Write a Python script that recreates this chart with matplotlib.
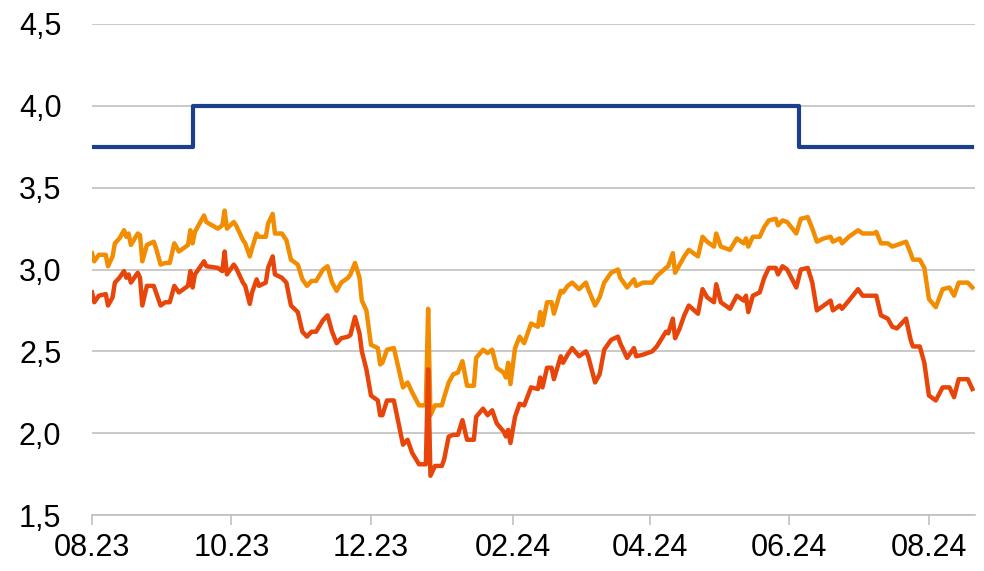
import matplotlib.pyplot as plt
import matplotlib.dates as mdates
from matplotlib.ticker import FuncFormatter
import pandas as pd

plt.rcParams['font.family'] = ['Liberation Sans', 'DejaVu Sans']

start = pd.Timestamp('2023-08-01')

# days after 01.08.2023
days = [0, 1, 3, 6, 7, 9, 10, 12, 14, 15, 16, 17, 20, 21, 22, 24, 27, 28, 30, 32,
        34, 36, 38, 42, 43, 44, 45, 49, 50, 55, 57, 58, 59, 62, 63, 66, 67, 69, 70, 72,
        73, 76, 77, 79, 80, 83, 85, 87, 90, 92, 94, 96, 98, 101, 103, 105, 107, 109, 112, 113,
        115, 117, 118, 120, 122, 125, 126, 127, 129, 132, 136, 138, 140, 143, 146, 147, 148, 150, 153, 154,
        156, 158, 160, 162, 164, 167, 168, 171, 173, 175, 177, 180, 181, 182, 183, 185, 187, 189, 192, 195,
        196, 197, 199, 201, 202, 205, 206, 208, 210, 213, 216, 217, 220, 222, 224, 227, 230, 231, 234, 237,
        238, 241, 245, 247, 251, 252, 254, 255, 257, 259, 261, 265, 267, 269, 272, 273, 275, 279, 282, 285,
        286, 287, 289, 292, 294, 296, 299, 300, 302, 304, 308, 310, 313, 315, 317, 320, 323, 324, 327, 328,
        331, 335, 337, 342, 343, 345, 348, 350, 352, 356, 358, 359, 362, 364, 366, 369, 372, 375, 377, 379,
        383, 385]

orange = [3.10, 3.05, 3.09, 3.09, 3.02, 3.08, 3.16, 3.19, 3.24, 3.20, 3.22, 3.15, 3.22, 3.21, 3.05, 3.15, 3.17, 3.13, 3.03, 3.04,
          3.04, 3.16, 3.11, 3.15, 3.24, 3.16, 3.23, 3.33, 3.29, 3.25, 3.27, 3.36, 3.25, 3.29, 3.27, 3.18, 3.16, 3.08, 3.13, 3.22,
          3.20, 3.20, 3.28, 3.34, 3.22, 3.22, 3.18, 3.06, 3.03, 2.94, 2.90, 2.93, 2.93, 3.00, 3.02, 2.92, 2.87, 2.92, 2.95, 2.97,
          3.04, 2.95, 2.81, 2.75, 2.54, 2.52, 2.42, 2.43, 2.51, 2.52, 2.28, 2.31, 2.25, 2.17, 2.17, 2.76, 2.11, 2.17, 2.17, 2.22,
          2.31, 2.36, 2.37, 2.44, 2.29, 2.29, 2.46, 2.51, 2.49, 2.51, 2.40, 2.37, 2.34, 2.43, 2.30, 2.52, 2.59, 2.55, 2.67, 2.65,
          2.74, 2.66, 2.80, 2.80, 2.73, 2.87, 2.86, 2.90, 2.92, 2.88, 2.92, 2.88, 2.78, 2.83, 2.92, 2.98, 3.00, 2.95, 2.89, 2.94,
          2.90, 2.92, 2.92, 2.96, 3.01, 3.02, 3.10, 2.98, 3.03, 3.08, 3.12, 3.08, 3.20, 3.17, 3.14, 3.22, 3.14, 3.12, 3.19, 3.16,
          3.19, 3.14, 3.20, 3.20, 3.26, 3.30, 3.31, 3.27, 3.30, 3.29, 3.22, 3.31, 3.32, 3.25, 3.17, 3.19, 3.20, 3.17, 3.19, 3.16,
          3.20, 3.24, 3.22, 3.22, 3.23, 3.16, 3.16, 3.14, 3.15, 3.17, 3.10, 3.06, 3.06, 3.01, 2.82, 2.77, 2.88, 2.89, 2.84, 2.92,
          2.92, 2.89]

red = [2.86, 2.80, 2.84, 2.85, 2.78, 2.83, 2.92, 2.95, 2.99, 2.95, 2.97, 2.92, 2.98, 2.95, 2.78, 2.90, 2.90, 2.86, 2.78, 2.80,
       2.80, 2.90, 2.86, 2.90, 2.99, 2.89, 2.97, 3.05, 3.02, 3.01, 2.99, 3.11, 2.97, 3.03, 3.01, 2.92, 2.90, 2.79, 2.86, 2.94,
       2.90, 2.92, 3.01, 3.08, 2.97, 2.95, 2.92, 2.78, 2.74, 2.62, 2.59, 2.62, 2.62, 2.69, 2.72, 2.62, 2.55, 2.58, 2.59, 2.60,
       2.71, 2.61, 2.50, 2.39, 2.23, 2.20, 2.11, 2.11, 2.20, 2.20, 1.93, 1.96, 1.88, 1.81, 1.81, 2.39, 1.74, 1.80, 1.80, 1.84,
       1.98, 1.99, 1.99, 2.08, 1.96, 1.96, 2.10, 2.15, 2.11, 2.14, 2.06, 2.01, 1.98, 2.02, 1.94, 2.10, 2.18, 2.17, 2.28, 2.27,
       2.34, 2.28, 2.40, 2.40, 2.33, 2.47, 2.43, 2.48, 2.52, 2.47, 2.50, 2.47, 2.31, 2.36, 2.51, 2.57, 2.59, 2.55, 2.46, 2.52,
       2.47, 2.48, 2.50, 2.53, 2.62, 2.61, 2.70, 2.58, 2.64, 2.72, 2.78, 2.73, 2.88, 2.83, 2.80, 2.91, 2.80, 2.76, 2.84, 2.81,
       2.84, 2.74, 2.84, 2.86, 2.95, 3.01, 3.01, 2.97, 3.02, 3.00, 2.89, 3.00, 3.01, 2.92, 2.75, 2.78, 2.81, 2.75, 2.78, 2.76,
       2.81, 2.88, 2.84, 2.84, 2.84, 2.72, 2.70, 2.65, 2.64, 2.70, 2.57, 2.53, 2.53, 2.43, 2.23, 2.20, 2.28, 2.28, 2.22, 2.33,
       2.33, 2.27]

# policy rate steps
rate_dates = ['2023-08-01', '2023-09-14', '2024-06-05', '2024-08-20']
rate = [3.75, 4.00, 3.75, 3.75]

dates = start + pd.to_timedelta(days, unit='D')
rdates = pd.to_datetime(rate_dates)

fig = plt.figure(figsize=(9.84, 5.71), dpi=100)
ax = fig.add_axes([0.0935, 0.098, 0.897, 0.86])

ax.plot(rdates, rate, color='#1B3F8B', lw=3.0, drawstyle='steps-post')
ax.plot(dates, orange, color='#F28C00', lw=3.2)
ax.plot(dates, red, color='#E8450A', lw=3.2)

ax.set_ylim(1.5, 4.5)
ax.set_yticks([1.5, 2.0, 2.5, 3.0, 3.5, 4.0, 4.5])
ax.yaxis.set_major_formatter(FuncFormatter(lambda v, p: f'{v:.1f}'.replace('.', ',')))
ax.set_xlim(start, pd.Timestamp('2024-08-21'))
ax.xaxis.set_major_locator(mdates.MonthLocator(bymonth=[2, 4, 6, 8, 10, 12]))
ax.xaxis.set_major_formatter(mdates.DateFormatter('%m.%y'))

ax.grid(axis='y', color='#C0C0C0', lw=1.2)
ax.set_axisbelow(True)
for s in ['left', 'right', 'top']:
    ax.spines[s].set_visible(False)
ax.spines['bottom'].set_color('#C0C0C0')
ax.spines['bottom'].set_linewidth(1.2)
ax.tick_params(axis='y', length=0, pad=22, labelsize=22)
ax.tick_params(axis='x', length=7, width=1.2, color='#C0C0C0', pad=6, labelsize=22)

fig.savefig('out.png', dpi=100)
